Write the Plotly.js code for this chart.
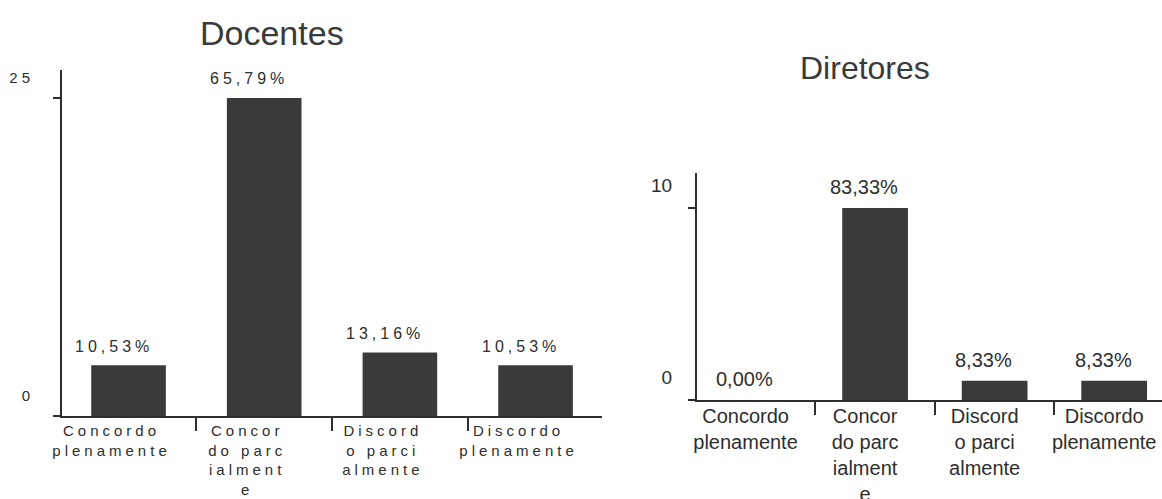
<!DOCTYPE html>
<html>
<head>
<meta charset="utf-8">
<script src="https://cdn.plot.ly/plotly-3.0.1.min.js"></script>
<style>
  html, body { margin: 0; padding: 0; background: #ffffff; }
  #chart { width: 1162px; height: 499px; }
  /* the teachers' panel uses widely spaced lettering */
  #chart .subplot.xy .xtick text,
  #chart .subplot.xy .ytick text { letter-spacing: 4px; }
</style>
</head>
<body>
<div id="chart"></div>
<script>
// Answer categories (shared by both panels)
const categories = [
  'Concordo<br>plenamente',
  'Concor<br>do parc<br>ialment<br>e',
  'Discord<br>o parci<br>almente',
  'Discordo<br>plenamente'
];

// Number of respondents per answer
const docentesCounts = [4, 25, 5, 4];
const diretoresCounts = [0, 10, 1, 1];

// Value-axis tick labels
const docentesTicks = [0, 25];
const diretoresTicks = [0, 10];

const panelTitles = ['Docentes', 'Diretores'];

const FONT = 'Liberation Sans, Arial, sans-serif';
const INK = '#2e2e2e';
const BAR = '#3a3a3a';

function share(value, list) {
  const total = list.reduce((a, b) => a + b, 0);
  return (value / total * 100).toFixed(2).replace('.', ',') + '%';
}

const barStyle = { color: BAR, line: { width: 0 } };

const traces = [
  { type: 'bar', x: categories, y: docentesCounts, xaxis: 'x', yaxis: 'y',
    width: 0.55, marker: barStyle, hoverinfo: 'skip' },
  { type: 'bar', x: categories, y: diretoresCounts, xaxis: 'x2', yaxis: 'y2',
    width: 0.55, marker: barStyle, hoverinfo: 'skip' }
];

const annotations = [];
docentesCounts.forEach((v, i) => {
  annotations.push({
    xref: 'x', yref: 'y', x: i, y: v, showarrow: false,
    text: '<span style="letter-spacing:4px">' + share(v, docentesCounts) + '</span>',
    xanchor: 'center', yanchor: 'middle', xshift: -15, yshift: 19,
    font: { family: FONT, size: 16, color: INK }
  });
});
diretoresCounts.forEach((v, i) => {
  annotations.push({
    xref: 'x2', yref: 'y2', x: i, y: v, showarrow: false,
    text: share(v, diretoresCounts),
    xanchor: 'center', yanchor: 'middle', xshift: -11, yshift: 21,
    font: { family: FONT, size: 20, color: INK }
  });
});
annotations.push({
  xref: 'paper', yref: 'paper', x: 0.234, y: 0.934, showarrow: false,
  text: panelTitles[0], xanchor: 'center', yanchor: 'middle',
  font: { family: FONT, size: 34, color: '#3a3a3a' }
});
annotations.push({
  xref: 'paper', yref: 'paper', x: 0.744, y: 0.864, showarrow: false,
  text: panelTitles[1], xanchor: 'center', yanchor: 'middle',
  font: { family: FONT, size: 32, color: '#3a3a3a' }
});

const xCommon = {
  type: 'category', showgrid: false, zeroline: false, showline: true,
  linecolor: INK, linewidth: 2, ticks: 'outside', tickson: 'boundaries',
  ticklen: 13, tickwidth: 2, tickcolor: INK, fixedrange: true
};
const yCommon = {
  showgrid: false, zeroline: false, showline: true, linecolor: INK, linewidth: 2,
  ticks: 'outside', ticklen: 7, tickwidth: 2, tickcolor: INK, fixedrange: true
};

const layout = {
  width: 1162, height: 499, autosize: false,
  margin: { l: 0, r: 0, t: 0, b: 0 },
  paper_bgcolor: '#ffffff', plot_bgcolor: 'rgba(0,0,0,0)',
  showlegend: false,
  font: { family: FONT, color: INK },
  xaxis: Object.assign({}, xCommon, {
    domain: [0.0534, 0.5181], anchor: 'y', range: [-0.49, 3.49],
    ticklabelshift: -17, ticklabelstandoff: 0,
    tickfont: { family: FONT, size: 15, color: INK }
  }),
  yaxis: Object.assign({}, yCommon, {
    domain: [0.1663, 0.8597], anchor: 'x', range: [0, 27.2],
    tickmode: 'array', tickvals: docentesTicks, ticktext: docentesTicks.map(String),
    ticklabelshift: -20, ticklabelstandoff: 16,
    tickfont: { family: FONT, size: 15, color: INK }
  }),
  xaxis2: Object.assign({}, xCommon, {
    domain: [0.5998, 1], anchor: 'y2', range: [-0.49, 3.4],
    ticklabelshift: -10, ticklabelstandoff: -3,
    tickfont: { family: FONT, size: 20, color: INK }
  }),
  yaxis2: Object.assign({}, yCommon, {
    domain: [0.1984, 0.6533], anchor: 'x2', range: [0, 11.82],
    tickmode: 'array', tickvals: diretoresTicks, ticktext: diretoresTicks.map(String),
    ticklabelshift: -23, ticklabelstandoff: 12,
    tickfont: { family: FONT, size: 19, color: INK }
  }),
  annotations: annotations
};

Plotly.newPlot('chart', traces, layout, { staticPlot: true, displayModeBar: false });
</script>
</body>
</html>
